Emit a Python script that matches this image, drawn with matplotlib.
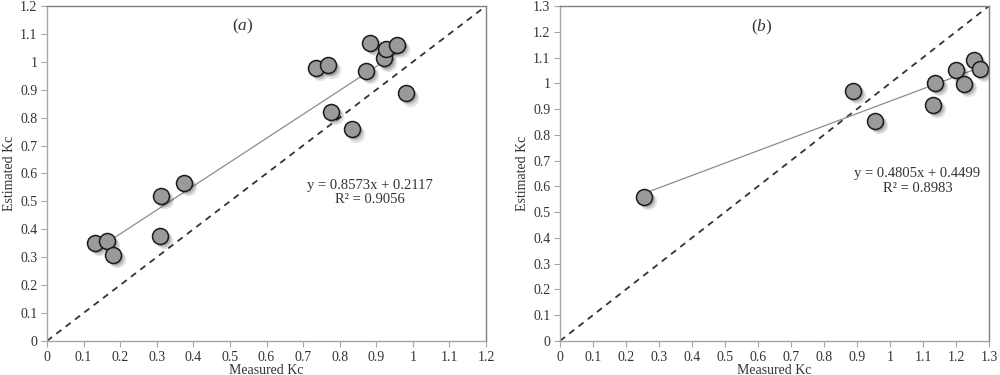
import matplotlib
matplotlib.use("Agg")
import matplotlib.pyplot as plt
import matplotlib.transforms as mtransforms
from matplotlib.ticker import FuncFormatter, MultipleLocator
import numpy as np

plt.rcParams['font.family'] = ['Liberation Serif', 'DejaVu Serif']
plt.rcParams['mathtext.fontset'] = 'custom'
plt.rcParams['mathtext.it'] = 'Liberation Serif:italic'

# panel (a)
meas_a = [0.132, 0.164, 0.180, 0.308, 0.311, 0.375, 0.736, 0.769, 0.777, 0.834,
          0.871, 0.884, 0.920, 0.927, 0.956, 0.982]
est_a = [0.351, 0.359, 0.307, 0.375, 0.519, 0.567, 0.979, 0.987, 0.819, 0.758,
         0.967, 1.069, 1.012, 1.046, 1.060, 0.887]
fit_a = (0.8573, 0.2117, 0.9056)

# panel (b)
meas_b = [0.255, 0.888, 0.954, 1.130, 1.136, 1.199, 1.223, 1.254, 1.272]
est_b = [0.559, 0.971, 0.855, 0.917, 1.001, 1.051, 0.998, 1.089, 1.057]
fit_b = (0.4805, 0.4499, 0.8983)

fig = plt.figure(figsize=(10, 3.75), dpi=100)
ax_a = fig.add_axes([0.047, 0.091, 0.439, 0.893])
ax_b = fig.add_axes([0.560, 0.091, 0.429, 0.893])

fmt = FuncFormatter(lambda v, p: '{:g}'.format(round(v, 2)))


def draw(ax, x, y, fit, lim, tag, tagpos, eqpos):
    slope, icpt, r2 = fit
    ax.plot([0, lim], [0, lim], color='#333333', lw=1.3, ls=(0, (3.5, 3)))
    xs = np.array([min(x), max(x)])
    ax.plot(xs, slope * xs + icpt, color='#8c8c8c', lw=0.9)
    # soft drop shadow under the markers
    for k, (dx, a) in enumerate([(3.0, 0.10), (2.2, 0.14), (1.5, 0.18)]):
        tr = mtransforms.offset_copy(ax.transData, fig=fig, x=dx, y=-dx, units='points')
        ax.plot(x, y, ls='none', marker='o', ms=12.5 - k, mfc='#000000', mec='none',
                alpha=a, transform=tr)
    ax.plot(x, y, ls='none', marker='o', ms=11.5, mfc='#9a9a9a', mec='#1a1a1a',
            mew=1.1)
    ax.set_xlim(0, lim)
    ax.set_ylim(0, lim)
    ax.xaxis.set_major_locator(MultipleLocator(0.1))
    ax.yaxis.set_major_locator(MultipleLocator(0.1))
    ax.xaxis.set_major_formatter(fmt)
    ax.yaxis.set_major_formatter(fmt)
    for s in ax.spines.values():
        s.set_color('#a6a6a6')
        s.set_linewidth(1.0)
    ax.spines['top'].set_color('#808080')
    ax.spines['right'].set_color('#808080')
    ax.tick_params(direction='out', length=4, color='#a6a6a6', labelsize=10,
                   labelcolor='#333333', pad=3)
    ax.set_xlabel('Measured Kc', fontsize=10, color='#333333', labelpad=0)
    ax.set_ylabel('Estimated Kc', fontsize=10, color='#333333', labelpad=3)
    ax.text(tagpos[0], tagpos[1], '(' + '$\\it{' + tag + '}$' + ')', fontsize=12.5,
            ha='center', va='center', color='#333333')
    ax.text(eqpos[0], eqpos[1], 'y = {:.4f}x + {:.4f}\nR² = {:.4f}'.format(slope, icpt, r2),
            fontsize=10.5, ha='center', va='center', color='#333333', linespacing=1.15)


draw(ax_a, meas_a, est_a, fit_a, 1.2, 'a', (0.535, 1.128), (0.883, 0.532))
draw(ax_b, meas_b, est_b, fit_b, 1.3, 'b', (0.611, 1.216), (1.083, 0.620))

fig.savefig('out.png', dpi=100)
